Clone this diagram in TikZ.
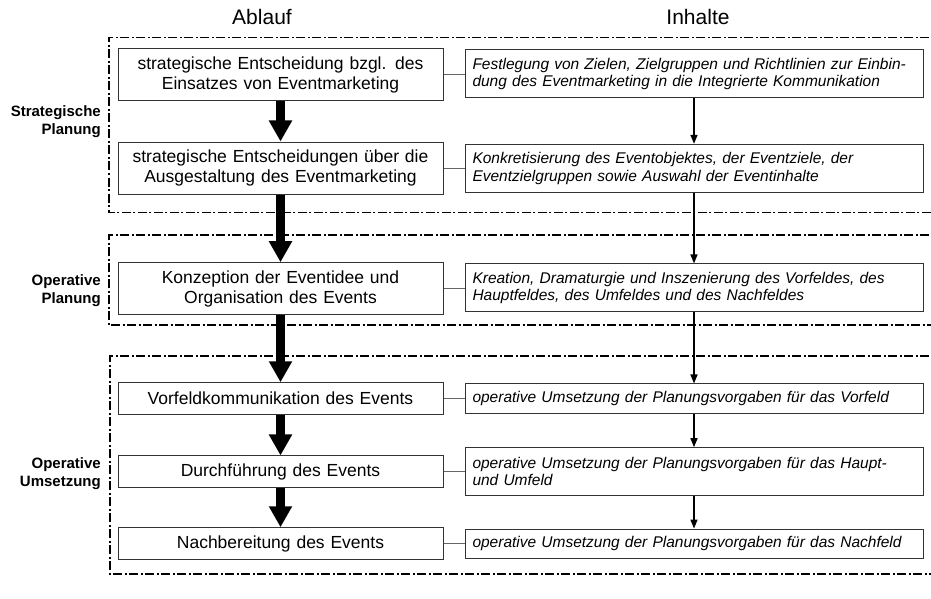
\documentclass[tikz,border=0pt]{standalone}
\usepackage{fontspec}
\setmainfont{Liberation Sans}
\usetikzlibrary{arrows.meta}
\tikzset{
  lbox/.style={draw=black!80, line width=1pt, fill=white, minimum width=325pt, text width=310pt, align=center, inner sep=0pt, font=\fontsize{17.5}{20}\selectfont},
  rbox/.style={draw=black!80, line width=1pt, fill=white, minimum width=458pt, text width=443pt, align=left, inner xsep=7.5pt, inner ysep=0pt, font=\fontsize{15.5}{17.5}\selectfont\itshape},
  two/.style={minimum height=52pt},
  one/.style={minimum height=31.5pt},
  rtwo/.style={minimum height=48pt},
  rone/.style={minimum height=29.5pt},
  bigarrow/.style={line width=9pt, -{Triangle[width=22pt,length=21pt]}},
  smallarrow/.style={line width=1.5pt, -{Triangle[width=7pt,length=9pt]}},
  link/.style={draw=black!60, line width=1pt},
  frame/.style={line width=1.4pt, dash pattern=on 9pt off 2.5pt on 2pt off 2.5pt},
  side/.style={align=right, anchor=east, font=\fontsize{15}{18}\selectfont\bfseries, inner sep=0pt},
  head/.style={anchor=base, font=\fontsize{21}{24}\selectfont, inner sep=0pt}
}
\begin{document}
\begin{tikzpicture}[x=1pt,y=-1pt]
\useasboundingbox (0,0) rectangle (931,599);
% frames
\draw[frame] (945,37.5) -- (109,37.5) -- (109,212.7) -- (945,212.7);
\draw[frame] (945,235) -- (109,235) -- (109,325) -- (945,325);
\draw[frame] (945,356) -- (110,356) -- (110,574) -- (945,574);
% headers
\node[head] (hA) at (262,25) {Ablauf};
\node[head] (hI) at (698,25) {Inhalte};
% side labels
\node[side] (s1) at (101,122) {Strategische\\Planung};
\node[side] (s2) at (101,291) {Operative\\Planung};
\node[side] (s3) at (101,474) {Operative\\Umsetzung};
% left boxes
\node[lbox,two] (L1) at (280.5,74.9) {strategische Entscheidung bzgl. des\\Einsatzes von Eventmarketing};
\node[lbox,two] (L2) at (280.5,168) {strategische Entscheidungen über die\\Ausgestaltung des Eventmarketing};
\node[lbox,two] (L3) at (280.5,288.7) {Konzeption der Eventidee und\\Organisation des Events};
\node[lbox,one] (L4) at (280.5,398.5) {Vorfeldkommunikation des Events};
\node[lbox,one] (L5) at (280.5,471.7) {Durchführung des Events};
\node[lbox,one] (L6) at (280.5,543.5) {Nachbereitung des Events};
% right boxes
\node[rbox,rtwo] (R1) at (694,73.9) {Festlegung von Zielen, Zielgruppen und Richtlinien zur Einbin-\\dung des Eventmarketing in die Integrierte Kommunikation};
\node[rbox,rtwo] (R2) at (694,168.3) {Konkretisierung des Eventobjektes, der Eventziele, der\\Eventzielgruppen sowie Auswahl der Eventinhalte};
\node[rbox,rtwo] (R3) at (694,287.9) {Kreation, Dramaturgie und Inszenierung des Vorfeldes, des\\Hauptfeldes, des Umfeldes und des Nachfeldes};
\node[rbox,rone] (R4) at (694,398.7) {operative Umsetzung der Planungsvorgaben für das Vorfeld};
\node[rbox,rtwo] (R5) at (694,471.7) {operative Umsetzung der Planungsvorgaben für das Haupt-\\und Umfeld};
\node[rbox,rone] (R6) at (694,543.8) {operative Umsetzung der Planungsvorgaben für das Nachfeld};
% links
\foreach \i in {1,...,6} {
  \draw[link] (L\i.east) -- (L\i.east -| R\i.west);
}
% arrows
\draw[bigarrow] (L1.south) -- (L2.north);
\draw[bigarrow] (L2.south) -- (L3.north);
\draw[bigarrow] (L3.south) -- (L4.north);
\draw[bigarrow] (L4.south) -- (L5.north);
\draw[bigarrow] (L5.south) -- (L6.north);
\draw[smallarrow] (R1.south) -- (R2.north);
\draw[smallarrow] (R2.south) -- (R3.north);
\draw[smallarrow] (R3.south) -- (R4.north);
\draw[smallarrow] (R4.south) -- (R5.north);
\draw[smallarrow] (R5.south) -- (R6.north);
\end{tikzpicture}
\end{document}
